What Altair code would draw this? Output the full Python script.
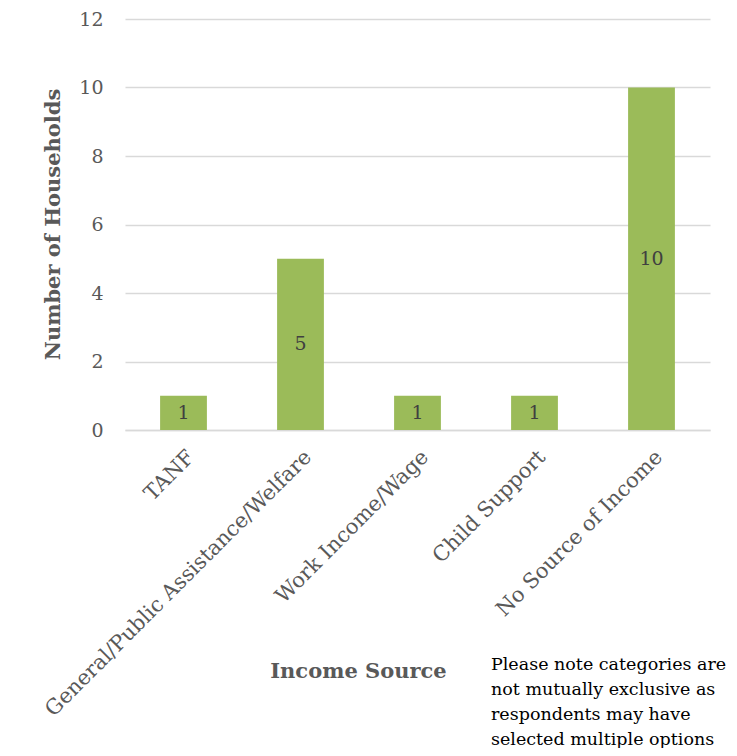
import altair as alt
import pandas as pd

categories = ["TANF", "General/Public Assistance/Welfare", "Work Income/Wage",
              "Child Support", "No Source of Income"]
households = [1, 5, 1, 1, 10]
y_ticks = [0, 2, 4, 6, 8, 10, 12]
note_lines = ["Please note categories are", "not mutually exclusive as",
              "respondents may have", "selected multiple options"]

df = pd.DataFrame({"source": categories, "count": households})
df["half"] = df["count"] / 2

FONT = "DejaVu Serif"
W, H = 585, 411

x_enc = alt.X("source:N", sort=categories,
              scale=alt.Scale(paddingInner=0.6, paddingOuter=0.3),
              axis=alt.Axis(title="Income Source", labelAngle=-45,
                            labelFontSize=21, labelColor="#595959", labelFont=FONT,
                            labelPadding=16, ticks=False,
                            domainColor="#D9D9D9", domainWidth=1.5,
                            titleFont=FONT, titleFontSize=21, titleFontWeight="bold",
                            titleColor="#595959", titleX=233, titleY=230,
                            titleAnchor="middle", labelLimit=600))

bars = alt.Chart(df).mark_bar(color="#9BBB59").encode(
    x=x_enc,
    y=alt.Y("count:Q", scale=alt.Scale(domain=[0, 12]),
            axis=alt.Axis(title="Number of Households", values=y_ticks,
                          labelFontSize=19, labelColor="#595959", labelFont=FONT,
                          labelPadding=22, ticks=False, domain=False,
                          gridColor="#D9D9D9", gridWidth=1.5,
                          titleFont=FONT, titleFontSize=21, titleFontWeight="bold",
                          titleColor="#595959", titleX=-62, titleY=205,
                          titleAnchor="middle")),
)

labels = alt.Chart(df).mark_text(font=FONT, fontSize=19, color="#404040",
                                 baseline="middle").encode(
    x=alt.X("source:N", sort=categories),
    y=alt.Y("half:Q"),
    text=alt.Text("count:Q"),
)

note_df = pd.DataFrame({"t": ["\n".join(note_lines)]})
note = alt.Chart(note_df).mark_text(font=FONT, fontSize=17.5, color="#000000",
                                    align="left", baseline="middle",
                                    lineBreak="\n", lineHeight=25).encode(
    x=alt.value(366), y=alt.value(646), text="t:N")

chart = alt.layer(bars, labels, note).properties(
    width=W, height=H,
    background="white",
    autosize=alt.AutoSizeParams(type="none"),
    padding={"left": 117, "top": 11, "right": 19, "bottom": 318},
).configure_view(strokeWidth=0, stroke="transparent")

chart.save("out.html", embed_options={"renderer": "svg", "actions": False})
